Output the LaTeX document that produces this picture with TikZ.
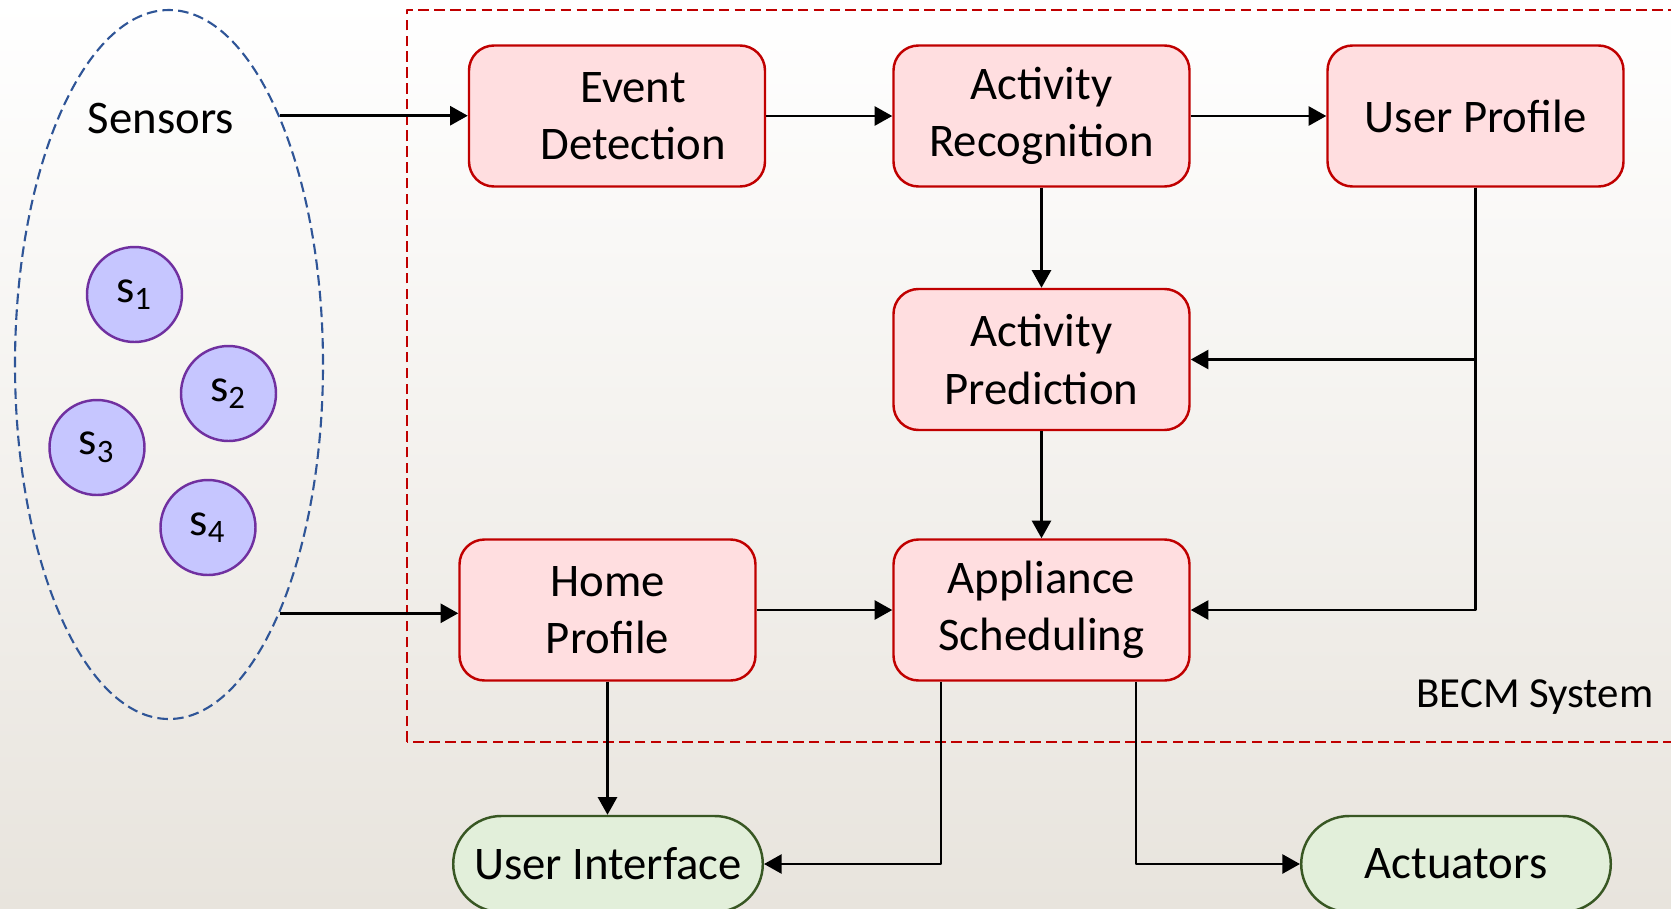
\documentclass[tikz,border=0pt]{standalone}
\usepackage{fontspec}
\setmainfont{Carlito}
\usetikzlibrary{arrows.meta,shapes.geometric,shapes.misc}
\definecolor{boxfill}{RGB}{255,222,224}
\definecolor{boxline}{RGB}{192,0,0}
\definecolor{sfill}{RGB}{198,198,255}
\definecolor{sline}{RGB}{112,48,160}
\definecolor{endfill}{RGB}{226,239,218}
\definecolor{endline}{RGB}{56,87,35}
\definecolor{ellline}{RGB}{47,85,151}
\definecolor{bgbottom}{RGB}{232,228,221}
\begin{document}
\begin{tikzpicture}[line join=round, >={Triangle[length=5pt,width=5.4pt]},
	font=\fontsize{13.3}{16.3}\selectfont,
	box/.style={draw=boxline, fill=boxfill, line width=0.7pt, rounded corners=0.25cm, minimum width=2.96cm, minimum height=1.41cm, align=center, inner sep=2pt},
	sensor/.style={circle, draw=sline, fill=sfill, line width=0.7pt, minimum size=0.95cm, inner sep=0pt},
	endbox/.style={rounded rectangle, draw=endline, fill=endfill, line width=0.7pt, minimum width=3.33cm, minimum height=0.96cm},
	conn/.style={->, line width=0.7pt}]
	\def\W{16.71} \def\H{9.08} % khung
	\path[use as bounding box, clip] (0,0) rectangle (\W,\H);
	\shade[top color=white, middle color=white, bottom color=bgbottom] (0,0) rectangle (\W,\H);
	\draw[boxline, dash pattern=on 3pt off 1.5pt, line width=0.6pt] (4.07,1.66) rectangle (17,8.98);
	\node[ellipse, draw=ellline, dash pattern=on 3pt off 1.5pt, line width=0.6pt, minimum width=3.08cm, minimum height=7.09cm, inner sep=0pt] (sens) at (1.69,5.435) {};
	\node (senslbl) at (1.61,7.90) {Sensors};
	\node[sensor] (s1) at (1.345,6.135) {s\textsubscript{1}};
	\node[sensor] (s2) at (2.285,5.145) {s\textsubscript{2}};
	\node[sensor] (s3) at (0.97,4.605) {s\textsubscript{3}};
	\node[sensor] (s4) at (2.08,3.805) {s\textsubscript{4}};
	\node[box] (ed) at (6.17,7.92) {\hspace*{0.32cm}Event\\\hspace*{0.32cm}Detection};
	\node[box] (ar) at (10.415,7.92) {Activity\\Recognition};
	\node[box] (up) at (14.755,7.92) {User Profile};
	\node[box] (ap) at (10.415,5.485) {Activity\\Prediction};
	\node[box] (as) at (10.415,2.98) {Appliance\\Scheduling};
	\node[box] (hp) at (6.075,2.98) {Home\\Profile};
	\node[endbox] (ui) at (6.08,0.44) {User Interface};
	\node[endbox] (act) at (14.56,0.44) {Actuators};
	\node (becm) at (15.35,2.11) {\fontsize{12.2}{14}\selectfont BECM System};
	\draw[conn] (sens.66) -- (sens.66 -| ed.west);
	\draw[conn] (sens.-66) -- (sens.-66 -| hp.west);
	\draw[conn] (ed) -- (ar);
	\draw[conn] (ar) -- (up);
	\draw[conn] (ar) -- (ap);
	\draw[conn] (ap) -- (as);
	\draw[conn] (up.south) |- (ap.east);
	\draw[conn] (up.south) |- (as.east);
	\draw[conn] (hp) -- (as);
	\draw[conn] (hp.south) -- (hp.south |- ui.north);
	\draw[conn] ([xshift=-1.005cm]as.south) |- (ui.east);
	\draw[conn] ([xshift=0.945cm]as.south) |- (act.west);
\end{tikzpicture}
\end{document}
